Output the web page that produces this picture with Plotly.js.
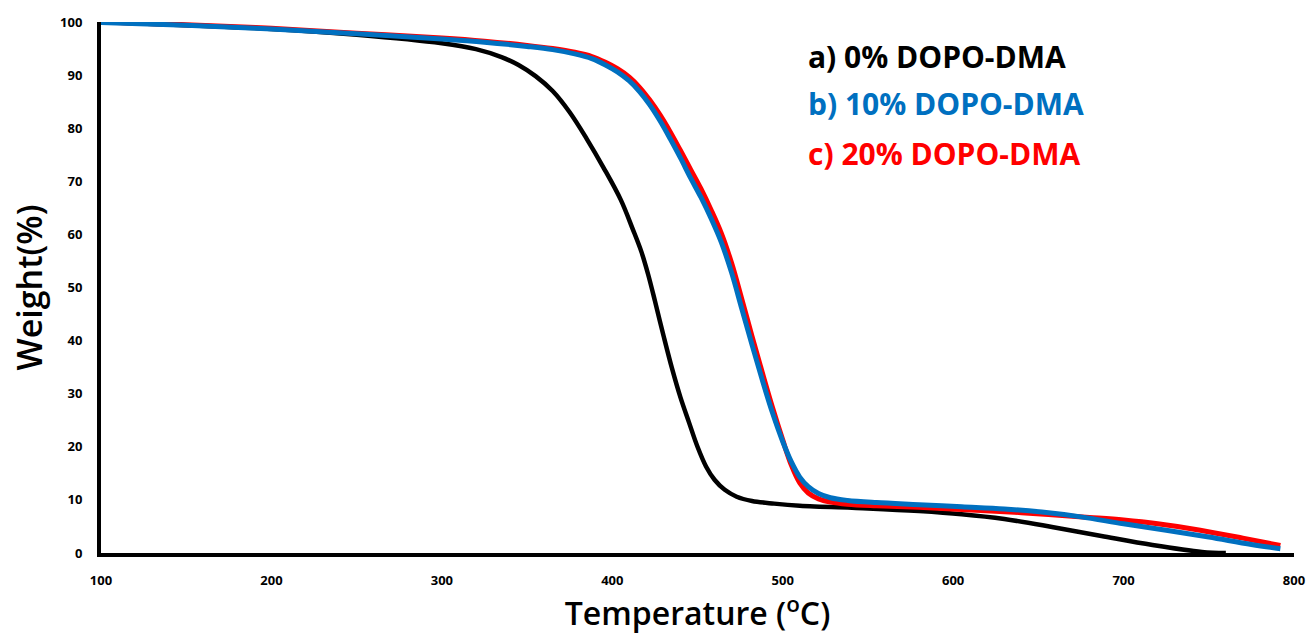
<!DOCTYPE html>
<html>
<head>
<meta charset="utf-8">
<script src="https://cdn.plot.ly/plotly-3.0.1.min.js"></script>
<style>html,body{margin:0;padding:0;background:#fff;}#chart{width:1307px;height:634px;}</style>
</head>
<body>
<div id="chart"></div>
<script>
// Temperature (°C) and weight (%)
const tempA = [100,150,200,250,300,320,335,345,355,365,375,385,395,405,412,417,421,425,430,435,440,445,450,455,460,466,473,482,495,510,550,580,605,630,658,687,717,746,760];
const weightA = [100,99.4,98.7,97.6,96.0,94.9,93.4,91.9,89.8,87.0,83.0,78.0,72.5,66.5,61.0,56.8,52.5,47.5,41.0,34.8,29.3,24.6,20.0,16.3,13.8,11.9,10.6,9.8,9.3,8.9,8.4,7.9,7.3,6.4,4.9,3.2,1.5,0.2,0];

const tempB = [100,150,200,250,300,325,350,365,378,388,396,403,410,416,422,428,434,440,446,452,458,464,470,476,482,488,494,500,505,510,515,521,528,538,555,580,605,630,652,675,700,725,750,775,792];
const weightB = [99.9,99.4,98.7,97.8,96.8,96.2,95.4,94.8,94.0,93.1,91.9,90.6,88.9,86.9,84.4,81.4,78.0,74.4,70.6,67.0,63.0,58.5,52.8,46.0,39.2,32.6,26.4,21.0,17.2,14.3,12.5,11.2,10.4,9.9,9.5,9.1,8.7,8.3,7.7,6.8,5.5,4.3,3.0,1.6,0.8];

const tempC = [100,150,200,250,300,325,350,365,378,388,396,403,410,416,422,428,434,440,446,452,458,464,470,476,482,488,494,500,505,510,515,521,528,538,555,580,605,640,680,700,720,745,770,792];
const weightC = [100,99.5,98.8,97.9,97.0,96.4,95.6,95.0,94.3,93.5,92.4,91.2,89.6,87.7,85.3,82.5,79.3,75.8,72.2,68.6,64.6,60.2,54.6,47.8,40.8,34.0,27.4,21.3,16.6,13.2,11.3,10.2,9.6,9.2,8.9,8.6,8.2,7.6,6.7,6.2,5.5,4.3,2.8,1.4];

const seriesNames = ["a) 0% DOPO-DMA","b) 10% DOPO-DMA","c) 20% DOPO-DMA"];
const seriesColors = ["#000000","#0070C0","#FF0000"];

const xTicks = [100,200,300,400,500,600,700,800];
const yTicks = [0,10,20,30,40,50,60,70,80,90,100];

const traces = [
  {x: tempA, y: weightA, mode: "lines", line: {color: seriesColors[0], width: 4.5, shape: "spline", smoothing: 1}, name: seriesNames[0]},
  {x: tempC, y: weightC, mode: "lines", line: {color: seriesColors[2], width: 5, shape: "spline", smoothing: 1}, name: seriesNames[2]},
  {x: tempB, y: weightB, mode: "lines", line: {color: seriesColors[1], width: 5, shape: "spline", smoothing: 1}, name: seriesNames[1]}
];

const fnt = "Open Sans, Liberation Sans, sans-serif";
const annotations = seriesNames.map((t, i) => ({
  xref: "paper", yref: "paper", x: (806-101)/(1294-101), y: 1 - ([56,103,153][i]-22)/(553-22),
  xanchor: "left", yanchor: "middle", showarrow: false, text: t,
  font: {family: fnt, size: 30, color: seriesColors[i], weight: 700}
}));

const layout = {
  width: 1307, height: 634,
  margin: {l: 101, r: 13, t: 22, b: 81},
  paper_bgcolor: "#fff", plot_bgcolor: "#fff",
  showlegend: false,
  xaxis: {
    range: [100, 800], tickvals: xTicks, ticktext: xTicks.map(String),
    showgrid: false, zeroline: false, showline: true, linecolor: "#000", linewidth: 4,
    ticks: "", ticklabelstandoff: 12,
    tickfont: {family: fnt, size: 13, color: "#000", weight: 700},
    title: {text: "Temperature (<sup>o</sup>C)", standoff: 6, font: {family: fnt, size: 32, color: "#000", weight: 600}}
  },
  yaxis: {
    range: [0, 100], tickvals: yTicks, ticktext: yTicks.map(String),
    showgrid: false, zeroline: false, showline: true, linecolor: "#000", linewidth: 4,
    ticks: "", ticklabelstandoff: 12,
    tickfont: {family: fnt, size: 13, color: "#000", weight: 700},
    title: {text: "Weight(%)", standoff: 8, font: {family: fnt, size: 34, color: "#000", weight: 600}}
  },
  annotations: annotations
};

Plotly.newPlot("chart", traces, layout, {staticPlot: true, displayModeBar: false});
</script>
</body>
</html>
